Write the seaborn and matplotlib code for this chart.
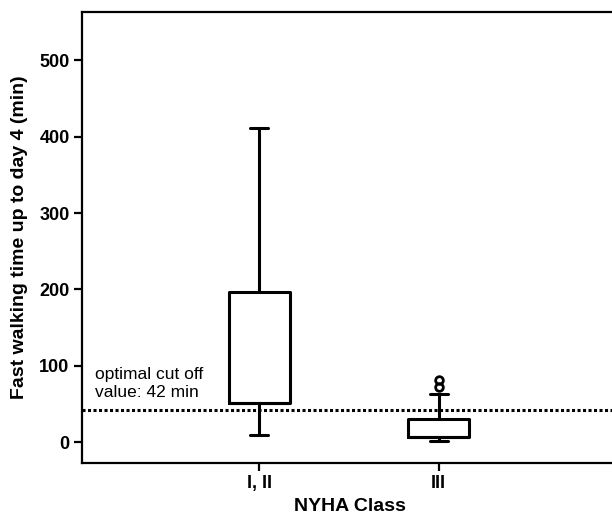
import matplotlib
matplotlib.use("Agg")
import matplotlib.pyplot as plt
import seaborn as sns
import pandas as pd

# Data (box summaries encoded as sample values)
categories = ["I, II", "III"]
values_class_I_II = [9, 51, 51, 196, 411]
values_class_III = [1.7, 7.3, 7.3, 7.3, 7.3, 7.3, 7.3, 15, 30, 30, 63, 72, 82]
cutoff_value = 42
cutoff_label = "optimal cut off\nvalue: 42 min"
y_ticks = [0, 100, 200, 300, 400, 500]

df = pd.DataFrame({
    "NYHA Class": [categories[0]] * len(values_class_I_II) + [categories[1]] * len(values_class_III),
    "time": values_class_I_II + values_class_III,
})

sns.set_theme(style="ticks")
plt.rcParams["font.family"] = ["Liberation Sans", "DejaVu Sans"]
plt.rcParams["text.color"] = "black"
plt.rcParams["axes.labelcolor"] = "black"
plt.rcParams["xtick.color"] = "black"
plt.rcParams["ytick.color"] = "black"

fig = plt.figure(figsize=(6.12, 5.15), dpi=100)
ax = fig.add_axes([0.134, 0.1016, 0.876, 0.875])

lw = 2.2
sns.boxplot(
    data=df, x="NYHA Class", y="time", order=categories,
    width=0.34, whis=1.5, fill=False, color="black", linewidth=lw,
    linecolor="black",
    flierprops=dict(marker="o", markersize=5.5, markerfacecolor="none",
                    markeredgecolor="black", markeredgewidth=2),
    capwidths=0.1,
    ax=ax,
)

ax.axhline(cutoff_value, color="black", lw=2.2, ls=(0, (1, 0.8)), zorder=0.5)
ax.text(-0.918, 77, cutoff_label, fontsize=12.5, ha="left", va="center",
        linespacing=1.2, color="black")

ax.set_xlim(-0.988, 2.0)
ax.set_ylim(-26.7, 563)
ax.set_yticks(y_ticks)
ax.set_yticklabels([str(t) for t in y_ticks], fontsize=13, fontweight="bold")
ax.set_xticks([0, 1])
ax.set_xticklabels(categories, fontsize=13, fontweight="bold")
ax.set_xlabel("NYHA Class", fontsize=14, fontweight="bold", labelpad=4)
ax.set_ylabel("Fast walking time up to day 4 (min)", fontsize=14, fontweight="bold", labelpad=8)

for side in ["left", "bottom", "top"]:
    ax.spines[side].set_linewidth(1.6)
    ax.spines[side].set_color("black")
ax.spines["right"].set_visible(False)
ax.tick_params(axis="both", length=6, width=1.6, color="black", pad=3)

fig.savefig("out.png", dpi=100)
